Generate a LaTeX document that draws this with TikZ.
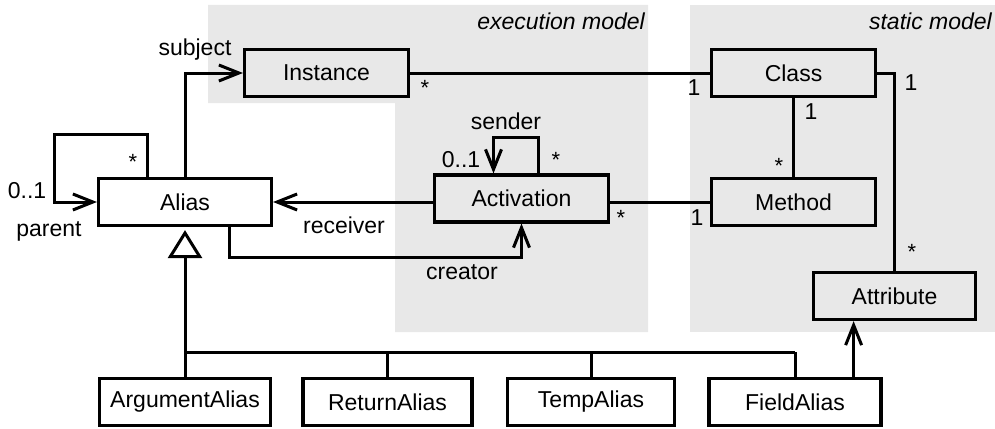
\documentclass[tikz,border=0pt]{standalone}
\usepackage{fontspec}
\setmainfont{Liberation Sans}
\usetikzlibrary{arrows.meta}
\definecolor{zone}{HTML}{E8E8E8}
\begin{document}
\begin{tikzpicture}[x=1pt,y=-1pt,
  box/.style={draw, line width=3.2pt, minimum height=47pt, inner sep=0pt, font=\fontsize{23}{27}\selectfont},
  lbl/.style={inner sep=0pt, font=\fontsize{23}{27}\selectfont},
  mult/.style={inner sep=0pt, font=\fontsize{22}{26}\selectfont},
  conn/.style={line width=3pt},
  nav/.style={conn, -{Straight Barb[length=20pt,width=16pt]}},
  gen/.style={conn, -{Triangle[open,length=28pt,width=34pt]}, shorten >=3pt},
  zonetitle/.style={inner sep=0pt, anchor=base east, font=\fontsize{23}{27}\selectfont\itshape}]
\useasboundingbox (0,0) rectangle (995,428);
% zones
\fill[zone] (208,5) -- (648,5) -- (648,332) -- (395,332) -- (395,103) -- (208,103) -- cycle;
\fill[zone] (690,5) rectangle (995,332);
\node[zonetitle] (exectitle) at (645,30) {execution model};
\node[zonetitle] (stattitle) at (992,30) {static model};
% classes
\node[box, minimum width=164pt] (Instance) at (326.5,73) {Instance};
\node[box, minimum width=164pt] (Class) at (793.5,73) {Class};
\node[box, minimum width=173pt] (Alias) at (185,202) {Alias};
\node[box, minimum width=174pt] (Activation) at (521.5,198.5) {Activation};
\node[box, minimum width=164pt] (Method) at (793.5,202) {Method};
\node[box, minimum width=162pt] (Attribute) at (894.5,296) {Attribute};
\node[box, minimum width=171pt] (ArgumentAlias) at (185,402) {ArgumentAlias};
\node[box, minimum width=169pt] (ReturnAlias) at (387.5,402) {ReturnAlias};
\node[box, minimum width=167pt] (TempAlias) at (591,402) {TempAlias};
\node[box, minimum width=172pt] (FieldAlias) at (795,402) {FieldAlias};
\coordinate (bus) at (185,352);
% associations
\draw[nav] (Alias.north) |- (Instance.west);
\node[lbl] (subj) at (195,50) {subject};
\draw[nav] ([xshift=-38pt]Alias.north) |- ++(-93,-42) |- (Alias.west);
\node[mult] (amany) at (133,162) {*};
\node[lbl] (aone) at (27,191) {0..1};
\node[lbl] (apar) at (49,231) {parent};
\draw[nav] (Activation.west |- Alias.east) -- (Alias.east);
\node[lbl] (recv) at (344,225) {receiver};
\draw[nav] ([xshift=-44pt]Alias.south east) -- ++(0,30) -| (Activation.south);
\node[lbl] (creat) at (462,272) {creator};
\draw[nav] ([xshift=17pt]Activation.north) |- ++(-45,-36) -- ([xshift=-28pt]Activation.north);
\node[lbl] (send) at (506,121) {sender};
\node[lbl] (sone) at (461,160) {0..1};
\node[mult] (smany) at (556,160) {*};
\draw[conn] (Instance.east) -- (Class.west);
\node[mult] (icmany) at (425,88) {*};
\node[lbl] (icone) at (694,88) {1};
\draw[conn] (Class.south) -- (Method.north);
\node[lbl] (cmone) at (811,112) {1};
\node[mult] (cmmany) at (779,166) {*};
\draw[conn] (Activation.east |- Method.west) -- (Method.west);
\node[mult] (ammany) at (621,218) {*};
\node[lbl] (amone) at (697,218) {1};
\draw[conn] (Class.east) -| (Attribute.north);
\node[lbl] (caone) at (911,83) {1};
\node[mult] (camany) at (912,252) {*};
\draw[nav] ([xshift=-29pt]FieldAlias.north east) -- ([xshift=-29pt]FieldAlias.north east |- Attribute.south);
% generalization
\draw[gen] (bus) -- (Alias.south);
\draw[conn] (bus) -- (FieldAlias.north |- bus);
\draw[conn] (bus) -- (ArgumentAlias.north);
\draw[conn] (ReturnAlias.north |- bus) -- (ReturnAlias.north);
\draw[conn] (TempAlias.north |- bus) -- (TempAlias.north);
\draw[conn] (FieldAlias.north |- bus) -- (FieldAlias.north);
\end{tikzpicture}
\end{document}
